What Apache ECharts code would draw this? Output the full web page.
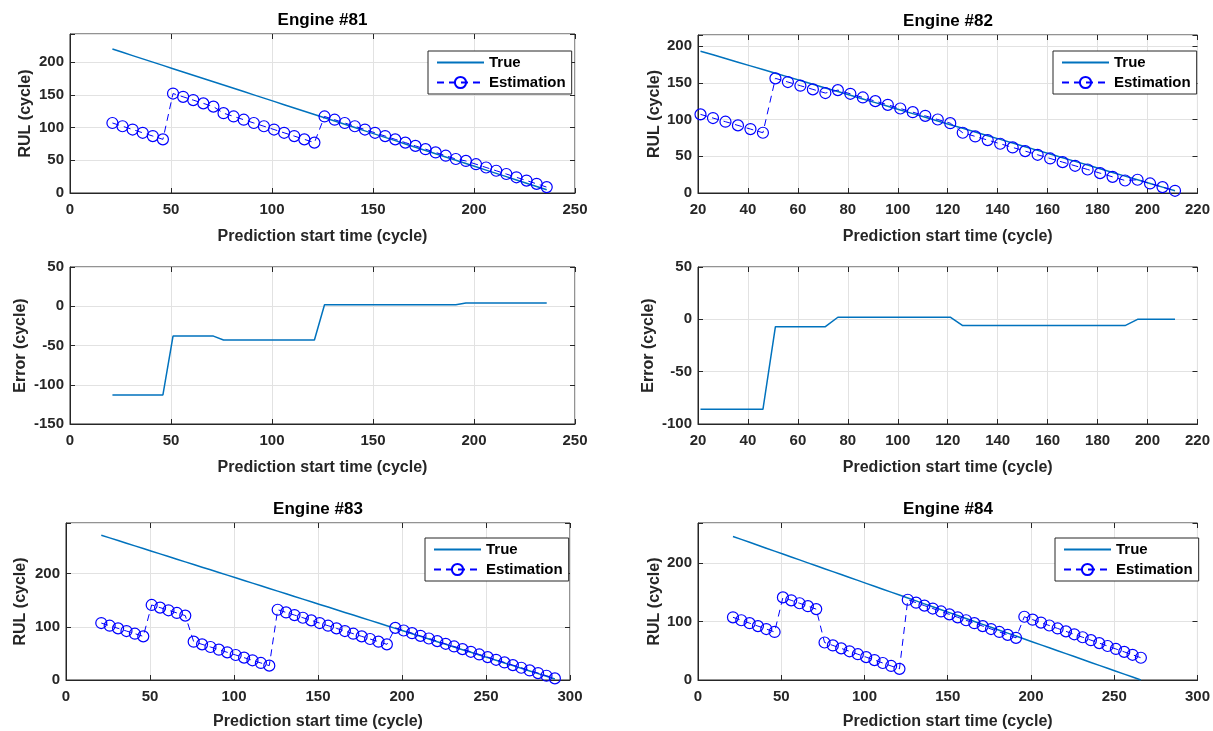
<!DOCTYPE html>
<html>
<head>
<meta charset="utf-8">
<title>RUL estimation - engines 81-84</title>
<script src="https://cdn.jsdelivr.net/npm/echarts@6/dist/echarts.min.js"></script>
<style>
  html, body { margin: 0; padding: 0; background: #fff; }
  #chart { width: 1213px; height: 731px; }
</style>
</head>
<body>
<div id="chart"></div>
<script>
// prediction start times (cycle)
var t81 = [21, 26, 31, 36, 41, 46, 51, 56, 61, 66, 71, 76, 81, 86, 91, 96, 101, 106, 111, 116, 121, 126, 131, 136, 141, 146, 151, 156, 161, 166, 171, 176, 181, 186, 191, 196, 201, 206, 211, 216, 221, 226, 231, 236];
var t82 = [21, 26, 31, 36, 41, 46, 51, 56, 61, 66, 71, 76, 81, 86, 91, 96, 101, 106, 111, 116, 121, 126, 131, 136, 141, 146, 151, 156, 161, 166, 171, 176, 181, 186, 191, 196, 201, 206, 211];
var t83 = [21, 26, 31, 36, 41, 46, 51, 56, 61, 66, 71, 76, 81, 86, 91, 96, 101, 106, 111, 116, 121, 126, 131, 136, 141, 146, 151, 156, 161, 166, 171, 176, 181, 186, 191, 196, 201, 206, 211, 216, 221, 226, 231, 236, 241, 246, 251, 256, 261, 266, 271, 276, 281, 286, 291];
var t84 = [21, 26, 31, 36, 41, 46, 51, 56, 61, 66, 71, 76, 81, 86, 91, 96, 101, 106, 111, 116, 121, 126, 131, 136, 141, 146, 151, 156, 161, 166, 171, 176, 181, 186, 191, 196, 201, 206, 211, 216, 221, 226, 231, 236, 241, 246, 251, 256, 261, 266];

// true RUL (cycle)
var true81 = [220, 215, 210, 205, 200, 195, 190, 185, 180, 175, 170, 165, 160, 155, 150, 145, 140, 135, 130, 125, 120, 115, 110, 105, 100, 95, 90, 85, 80, 75, 70, 65, 60, 55, 50, 45, 40, 35, 30, 25, 20, 15, 10, 5];
var true82 = [193, 188, 183, 178, 173, 168, 163, 158, 153, 148, 143, 138, 133, 128, 123, 118, 113, 108, 103, 98, 93, 88, 83, 78, 73, 68, 63, 58, 53, 48, 43, 38, 33, 28, 23, 18, 13, 8, 3];
var true83 = [272, 267, 262, 257, 252, 247, 242, 237, 232, 227, 222, 217, 212, 207, 202, 197, 192, 187, 182, 177, 172, 167, 162, 157, 152, 147, 142, 137, 132, 127, 122, 117, 112, 107, 102, 97, 92, 87, 82, 77, 72, 67, 62, 57, 52, 47, 42, 37, 32, 27, 22, 17, 12, 7, 2];
var true84 = [245, 240, 235, 230, 225, 220, 215, 210, 205, 200, 195, 190, 185, 180, 175, 170, 165, 160, 155, 150, 145, 140, 135, 130, 125, 120, 115, 110, 105, 100, 95, 90, 85, 80, 75, 70, 65, 60, 55, 50, 45, 40, 35, 30, 25, 20, 15, 10, 5, 0];

// estimated RUL (cycle)
var est81 = [107, 102, 97, 92, 87, 82, 152, 147, 142, 137, 132, 122, 117, 112, 107, 102, 97, 92, 87, 82, 77, 117, 112, 107, 102, 97, 92, 87, 82, 77, 72, 67, 62, 57, 52, 49, 44, 39, 34, 29, 24, 19, 14, 9];
var est82 = [107, 102, 97, 92, 87, 82, 156, 151, 146, 141, 136, 140, 135, 130, 125, 120, 115, 110, 105, 100, 95, 82, 77, 72, 67, 62, 57, 52, 47, 42, 37, 32, 27, 22, 17, 18, 13, 8, 3];
var est83 = [107, 102, 97, 92, 87, 82, 141, 136, 131, 126, 121, 72, 67, 62, 57, 52, 47, 42, 37, 32, 27, 132, 127, 122, 117, 112, 107, 102, 97, 92, 87, 82, 77, 72, 67, 98, 93, 88, 83, 78, 73, 68, 63, 58, 53, 48, 43, 38, 33, 28, 23, 18, 13, 8, 3];
var est84 = [107, 102, 97, 92, 87, 82, 141, 136, 131, 126, 121, 64, 59, 54, 49, 44, 39, 34, 29, 24, 19, 137, 132, 127, 122, 117, 112, 107, 102, 97, 92, 87, 82, 77, 72, 108, 103, 98, 93, 88, 83, 78, 73, 68, 63, 58, 53, 48, 43, 38];

// error (cycle), engines 81 and 82
var err81 = [-113, -113, -113, -113, -113, -113, -38, -38, -38, -38, -38, -43, -43, -43, -43, -43, -43, -43, -43, -43, -43, 2, 2, 2, 2, 2, 2, 2, 2, 2, 2, 2, 2, 2, 2, 4, 4, 4, 4, 4, 4, 4, 4, 4];
var err82 = [-86, -86, -86, -86, -86, -86, -7, -7, -7, -7, -7, 2, 2, 2, 2, 2, 2, 2, 2, 2, 2, -6, -6, -6, -6, -6, -6, -6, -6, -6, -6, -6, -6, -6, -6, 0, 0, 0, 0];

var titles = ["Engine #81", "Engine #82", "Engine #83", "Engine #84"];

var FONT = '"Liberation Sans", Arial, Helvetica, sans-serif';
var INK = "#262626";
var TRUE_COLOR = "#0072BD";
var EST_COLOR = "#0000FF";

// panel boxes: left, top, width, height
var panels = [
  { left: 70, top: 34, width: 505, height: 159, x: [0, 250, 50], y: [0, 243, 50], yName: "RUL (cycle)", xGap: 36, yGap: 36 },
  { left: 698, top: 35, width: 500, height: 158, x: [20, 220, 20], y: [0, 215, 50], yName: "RUL (cycle)", xGap: 36, yGap: 35 },
  { left: 70, top: 267, width: 505, height: 157, x: [0, 250, 50], y: [-150, 50, 50], yName: "Error (cycle)", xGap: 36, yGap: 41 },
  { left: 698, top: 267, width: 500, height: 157, x: [20, 220, 20], y: [-100, 50, 50], yName: "Error (cycle)", xGap: 36, yGap: 41 },
  { left: 66, top: 523, width: 504, height: 159, x: [0, 300, 50], y: [0, 295, 100], yName: "RUL (cycle)", xGap: 34, yGap: 37 },
  { left: 698, top: 523, width: 500, height: 159, x: [0, 300, 50], y: [0, 268, 100], yName: "RUL (cycle)", xGap: 34, yGap: 34 }
];

function zip(xs, ys) {
  return xs.map(function (x, i) { return [x, ys[i]]; });
}

function onStep(step) {
  return function (v) { return v % step === 0 ? String(v) : ""; };
}

var grids = [], xAxes = [], yAxes = [], mirrorX = [], mirrorY = [];
panels.forEach(function (p, i) {
  grids.push({
    left: p.left, top: p.top, width: p.width, height: p.height,
    show: true, borderColor: INK, borderWidth: 1, backgroundColor: "#fff"
  });
  xAxes.push({
    type: "value", gridIndex: i, min: p.x[0], max: p.x[1], interval: p.x[2],
    name: "Prediction start time (cycle)", nameLocation: "middle", nameGap: p.xGap,
    nameTextStyle: { fontFamily: FONT, fontWeight: "bold", fontSize: 16, color: INK },
    axisLine: { show: true, onZero: false, lineStyle: { color: INK, width: 1 } },
    axisTick: { show: true, inside: true, length: 5, lineStyle: { color: INK } },
    axisLabel: { fontFamily: FONT, fontWeight: "bold", fontSize: 15, color: INK, margin: 9, formatter: onStep(p.x[2]) },
    splitLine: { show: true, lineStyle: { color: "#e2e2e2", width: 1 } }
  });
  yAxes.push({
    type: "value", gridIndex: i, min: p.y[0], max: p.y[1], interval: p.y[2],
    name: p.yName, nameLocation: "middle", nameGap: p.yGap,
    nameTextStyle: { fontFamily: FONT, fontWeight: "bold", fontSize: 16, color: INK },
    axisLine: { show: true, onZero: false, lineStyle: { color: INK, width: 1 } },
    axisTick: { show: true, inside: true, length: 5, lineStyle: { color: INK } },
    axisLabel: { fontFamily: FONT, fontWeight: "bold", fontSize: 15, color: INK, margin: 6, formatter: onStep(p.y[2]) },
    splitLine: { show: true, lineStyle: { color: "#e2e2e2", width: 1 } }
  });
  // top / right copies only for the inside ticks of the box
  mirrorX.push({
    type: "value", gridIndex: i, position: "top", min: p.x[0], max: p.x[1], interval: p.x[2],
    axisLine: { show: false, onZero: false }, axisLabel: { show: false }, splitLine: { show: false },
    axisTick: { show: true, inside: true, length: 5, lineStyle: { color: INK } }
  });
  mirrorY.push({
    type: "value", gridIndex: i, position: "right", min: p.y[0], max: p.y[1], interval: p.y[2],
    axisLine: { show: false, onZero: false }, axisLabel: { show: false }, splitLine: { show: false },
    axisTick: { show: true, inside: true, length: 5, lineStyle: { color: INK } }
  });
});

function trueSeries(idx, xs, ys) {
  return {
    name: "True", type: "line", xAxisIndex: idx, yAxisIndex: idx,
    data: zip(xs, ys), showSymbol: false, symbol: "none",
    lineStyle: { color: TRUE_COLOR, width: 1.5 }, itemStyle: { color: TRUE_COLOR },
    z: 2
  };
}

function estSeries(idx, xs, ys) {
  return {
    name: "Estimation", type: "line", xAxisIndex: idx, yAxisIndex: idx,
    data: zip(xs, ys), symbol: "circle", symbolSize: 11,
    lineStyle: { color: EST_COLOR, width: 1, type: [7, 5] },
    itemStyle: { color: "rgba(0,0,0,0)", borderColor: EST_COLOR, borderWidth: 1.2 },
    z: 3
  };
}

function errSeries(idx, xs, ys) {
  return {
    name: "Error", type: "line", xAxisIndex: idx, yAxisIndex: idx,
    data: zip(xs, ys), showSymbol: false, symbol: "none",
    lineStyle: { color: TRUE_COLOR, width: 1.5 }
  };
}

var series = [
  trueSeries(0, t81, true81), estSeries(0, t81, est81),
  trueSeries(1, t82, true82), estSeries(1, t82, est82),
  errSeries(2, t81, err81),
  errSeries(3, t82, err82),
  trueSeries(4, t83, true83), estSeries(4, t83, est83),
  trueSeries(5, t84, true84), estSeries(5, t84, est84)
];

var rulPanels = [0, 1, 4, 5];
var legends = [
  { left: 428, top: 51 },
  { left: 1053, top: 51 },
  { left: 425, top: 538 },
  { left: 1055, top: 538 }
].map(function (pos) {
  return {
    left: pos.left, top: pos.top, orient: "vertical",
    data: [
      { name: "True", itemStyle: { opacity: 0 } },
      { name: "Estimation" }
    ],
    backgroundColor: "#fff", borderColor: INK, borderWidth: 1,
    padding: [4, 6, 4, 8], itemGap: 5, itemWidth: 47, itemHeight: 14,
    selectedMode: false,
    textStyle: { fontFamily: FONT, fontWeight: "bold", fontSize: 15, color: "#000" }
  };
});

var titleOpts = titles.map(function (text, k) {
  var p = panels[rulPanels[k]];
  return {
    text: text, left: p.left + p.width / 2, top: p.top - 22, textAlign: "center", padding: 0,
    textStyle: { fontFamily: FONT, fontWeight: "bold", fontSize: 17, color: "#000" }
  };
});

var chart = echarts.init(document.getElementById("chart"), null, { renderer: "canvas" });
chart.setOption({
  animation: false,
  backgroundColor: "#fff",
  title: titleOpts,
  legend: legends,
  grid: grids,
  xAxis: xAxes.concat(mirrorX),
  yAxis: yAxes.concat(mirrorY),
  series: series
});
</script>
</body>
</html>
